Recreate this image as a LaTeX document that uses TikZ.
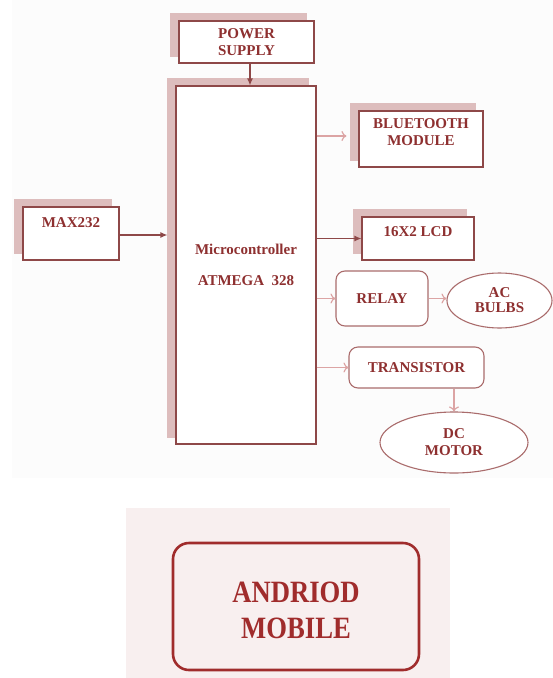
\documentclass[tikz,border=0pt]{standalone}
\usepackage{fontspec}
\setmainfont{Liberation Serif}
\newfontfamily\mobfont[FakeStretch=0.86]{Liberation Serif}
\usetikzlibrary{arrows.meta,backgrounds,shapes.geometric}

\definecolor{labelred}{HTML}{8E3030}
\definecolor{boxline}{HTML}{8E4848}
\definecolor{roundline}{HTML}{AA6C6C}
\definecolor{shadowpink}{HTML}{DDBDBD}
\definecolor{arrowpink}{HTML}{DCA4A4}
\definecolor{mobilebg}{HTML}{F8EFEF}
\definecolor{mobileline}{HTML}{A02C2C}

\begin{document}
\begin{tikzpicture}[x=1pt,y=-1pt,
    font=\fontsize{15}{17}\selectfont\bfseries,
    box/.style={draw=boxline,line width=1.1pt,fill=white,text=labelred,inner sep=0pt,align=center},
    roundbox/.style={box,draw=roundline,rounded corners=9pt},
    oval/.style={ellipse,draw=roundline,line width=1.1pt,fill=white,text=labelred,inner sep=0pt,align=center},
    darkarrow/.style={draw=boxline,line width=1.2pt,-{Latex[length=7pt,width=6pt]}},
    lightarrow/.style={draw=arrowpink,line width=1.2pt,-{To[length=5pt,width=10pt]}}]
    \useasboundingbox (0,0) rectangle (553,678);

    % Blocks of the board
    \node[box,minimum width=135pt,minimum height=42pt] (psu) at (246.5,42) {POWER\\SUPPLY};
    \node[box,minimum width=140pt,minimum height=358pt] (mcu) at (246,265) {Microcontroller\\[14pt]ATMEGA\ \ 328};
    \node[box,minimum width=96pt,text height=20pt,text depth=33pt] (max) at (71,233.5) {MAX232};
    \node[box,minimum width=124pt,text height=34pt,text depth=22pt] (bt) at (421,139) {BLUETOOTH\\MODULE};
    \node[box,minimum width=112pt,text height=19pt,text depth=24pt] (lcd) at (418,238.5) {16X2 LCD};
    \node[roundbox,minimum width=92pt,minimum height=55pt] (relay) at (382,298.5) {RELAY};
    \node[oval,minimum width=105pt,minimum height=55pt] (bulbs) at (499.5,300.5) {AC\\[-2pt]BULBS};
    \node[roundbox,minimum width=135pt,minimum height=41pt] (trans) at (416.5,367.5) {TRANSISTOR};
    \node[oval,minimum width=148pt,minimum height=61pt] (motor) at (454,442.5) {DC\\MOTOR};

    % The phone
    \node[box,draw=mobileline,line width=2.6pt,rounded corners=16pt,fill=mobilebg,text=mobileline,
          minimum width=246pt,text height=95pt,text depth=32pt,
          font=\mobfont\fontsize{31}{36}\selectfont\bfseries]
          (andr) at (296,606.5) {ANDRIOD\\MOBILE};

    % Shadows and backgrounds
    \begin{scope}[on background layer]
        \fill[black!1] (12,0) rectangle (553,478);
        \fill[mobilebg] (126,508) rectangle (450,678);
        \foreach \n in {psu,mcu,max,bt,lcd} {
            \fill[shadowpink] ([shift={(-8,-7)}]\n.south west) rectangle ([shift={(-8,-7)}]\n.north east);
        }
    \end{scope}

    % Connections
    \draw[darkarrow] (psu.south -| 250,0) -- (mcu.north -| 250,0);
    \draw[darkarrow,shorten >=8pt] (max.east |- 0,235) -- (mcu.west |- 0,235);
    \draw[lightarrow,shorten >=12pt] (mcu.east |- 0,136) -- (bt.west |- 0,136);
    \draw[darkarrow] (mcu.east |- lcd) -- (lcd.west);
    \draw[lightarrow] (mcu.east |- relay) -- (relay.west);
    \draw[lightarrow] (relay.east) -- (relay.east -| bulbs.west);
    \draw[lightarrow] (mcu.east |- trans) -- (trans.west);
    \draw[lightarrow] (trans.south -| motor) -- (motor.north);
\end{tikzpicture}
\end{document}
